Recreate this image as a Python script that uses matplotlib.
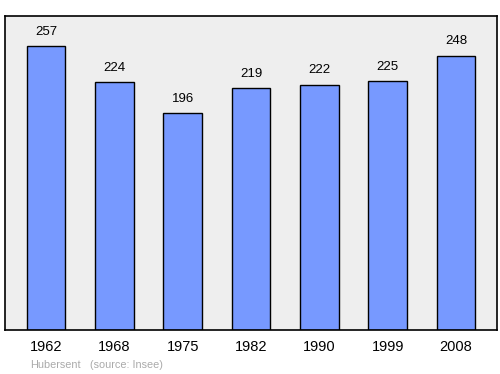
import matplotlib
matplotlib.use("Agg")
import matplotlib.pyplot as plt

plt.rcParams['font.family'] = ['Liberation Sans', 'DejaVu Sans']

years = ["1962", "1968", "1975", "1982", "1990", "1999", "2008"]
population = [257, 224, 196, 219, 222, 225, 248]

fig = plt.figure(figsize=(5, 3.74), dpi=100)
ax = fig.add_axes([5/500, 1 - 330/374, 492/500, 314/374])
ax.set_facecolor("#eeeeee")
x = list(range(len(years)))
ax.bar(x, population, width=0.57, color="#7799ff", edgecolor="black", linewidth=1)
for xi, v in zip(x, population):
    ax.annotate(str(v), (xi, v), xytext=(0, 6), textcoords="offset points",
                ha="center", va="bottom", fontsize=9.5, color="black")
ax.set_xlim(-0.6, 6.6)
ax.set_ylim(0, 284)
ax.set_yticks([])
ax.set_xticks(x)
ax.set_xticklabels(years, fontsize=10.5)
ax.tick_params(axis="x", length=0, pad=7)
for s in ax.spines.values():
    s.set_linewidth(1.2)
fig.text(30/500, 1 - 365/374, "Hubersent", fontsize=7.8, color="#aaaaaa", va="center")
fig.text(90/500, 1 - 365/374, "(source: Insee)", fontsize=7.8, color="#aaaaaa", va="center")
fig.savefig("out.png", dpi=100)
